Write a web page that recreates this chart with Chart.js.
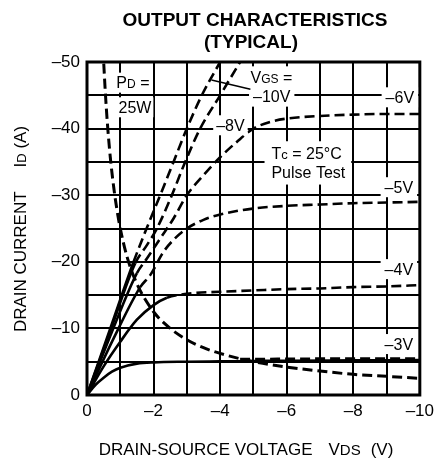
<!DOCTYPE html>
<html>
<head>
<meta charset="utf-8">
<title>Output Characteristics</title>
<script src="https://cdn.jsdelivr.net/npm/chart.js@4.4.1/dist/chart.umd.min.js"></script>
<style>
  html, body { margin: 0; padding: 0; background: #fff; }
  #wrap { width: 440px; height: 465px; }
</style>
</head>
<body>
<div id="wrap"><canvas id="chart" width="440" height="465"></canvas></div>
<script>
// Tick labels
const xTicks = [0, -2, -4, -6, -8, -10];
const yTicks = [0, -10, -20, -30, -40, -50];

// VGS curves: VDS (V) and ID (A)
const vgsNames = ["–3V", "–4V", "–5V", "–6V", "–8V", "–10V"];

const vds3 = [0, -0.25, -0.5, -0.75, -1, -1.5, -2, -3, -4, -5, -6, -8, -10];
const id3  = [0, -1.5, -2.6, -3.5, -4.1, -4.7, -4.9, -5.0, -5.05, -5.1, -5.15, -5.2, -5.25];
// pulse part drawn on top of -3V
const vds3p = [-4.6, -6, -8, -10];
const id3p  = [-5.35, -5.4, -5.45, -5.45];

const vds4 = [0, -0.5, -1, -1.5, -2, -2.4, -3, -4, -5, -6, -7, -8, -9, -10];
const id4  = [0, -4.3, -8.0, -11.3, -13.5, -14.6, -15.2, -15.5, -15.7, -15.9, -16.0, -16.2, -16.3, -16.5];

const vds5 = [0, -0.8, -1.6, -1.9, -2.3, -2.6, -3, -3.5, -4, -5, -6, -7, -8, -9, -10];
const id5  = [0, -8.5, -16.2, -18, -21.5, -23.3, -25, -26.3, -27.1, -28, -28.4, -28.6, -28.8, -28.9, -29];

const vds6 = [0, -0.75, -1.5, -1.8, -2.2, -2.6, -3, -3.5, -4, -4.5, -5, -5.5, -6, -7, -8, -9, -10];
const id6  = [0, -9.5, -18.3, -20.5, -23.5, -26.5, -30, -33, -35.7, -38, -40, -41, -41.5, -41.9, -42.1, -42.2, -42.2];

const vds8 = [0, -0.7, -1.45, -1.8, -2.1, -2.55, -2.95, -3.4, -4, -4.6];
const id8  = [0, -9.6, -19.8, -22.5, -25, -30, -35, -40, -45, -50];

const vds10 = [0, -0.7, -1.4, -1.75, -2.2, -2.6, -3.0, -3.45, -4.0];
const id10  = [0, -10, -20, -24.5, -30, -35, -40, -45, -50];

// where the measured solid part ends (dashed beyond)
const solidTo = [-10, -2.4, -1.6, -1.5, -1.45, -1.4];

// PD = 25W limit
const vdsPd = [-0.48, -0.55, -0.62, -0.7, -0.8, -0.9, -1, -1.2, -1.5, -2, -2.5, -3, -3.5, -4, -5, -6, -7, -8, -9, -10];
const idPd  = [-52, -45.5, -40.3, -35.7, -31.3, -27.8, -25, -20.8, -16.7, -12.5, -10, -8.3, -7.1, -6.25, -5, -4.2, -3.6, -3.1, -2.8, -2.5];

const FONT = '"Liberation Sans", Arial, Helvetica, sans-serif';
const DASH = [10, 5];

function pts(xs, ys) {
  return xs.map((x, i) => ({ x: x, y: ys[i] }));
}

function fmt(v) {
  return v === 0 ? "0" : "–" + Math.abs(v);
}

// draw text made of parts [text, size] on a common baseline, centred at cx
function drawRich(ctx, parts, cx, cy, bold) {
  let w = 0;
  parts.forEach(p => {
    if (typeof p === "number") { w += p; return; }
    ctx.font = (bold ? "bold " : "") + p[1] + "px " + FONT;
    w += ctx.measureText(p[0]).width;
  });
  const main = parts.find(p => typeof p !== "number")[1];
  let x = cx - w / 2;
  const base = cy + main * 0.36;
  ctx.textAlign = "left";
  ctx.textBaseline = "alphabetic";
  parts.forEach(p => {
    if (typeof p === "number") { x += p; return; }
    ctx.font = (bold ? "bold " : "") + p[1] + "px " + FONT;
    ctx.fillText(p[0], x, base);
    x += ctx.measureText(p[0]).width;
  });
  return w;
}

function label(ctx, chart, parts, v, i, padX, padY) {
  const sx = chart.scales.x, sy = chart.scales.y;
  const cx = sx.getPixelForValue(v), cy = sy.getPixelForValue(i);
  let w = 0;
  parts.forEach(p => {
    if (typeof p === "number") { w += p; return; }
    ctx.font = p[1] + "px " + FONT;
    w += ctx.measureText(p[0]).width;
  });
  ctx.fillStyle = "#fff";
  ctx.fillRect(cx - w / 2 - padX, cy - 9 - padY, w + padX * 2, 18 + padY * 2);
  ctx.fillStyle = "#000";
  drawRich(ctx, parts, cx, cy, false);
}

const textPlugin = {
  id: "texts",
  afterDatasetsDraw(chart) {
    const ctx = chart.ctx;
    const a = chart.chartArea;
    const sx = chart.scales.x, sy = chart.scales.y;
    ctx.save();

    // frame
    ctx.lineWidth = 3;
    ctx.strokeStyle = "#000";
    ctx.strokeRect(a.left, a.top, a.right - a.left, a.bottom - a.top);

    // curve labels
    label(ctx, chart, [["P", 16], ["D", 12], [" =", 16]], -1.38, -46.9, 2, 1);
    label(ctx, chart, [["25W", 16]], -1.44, -43.2, 2, 1);
    label(ctx, chart, [["V", 16], ["GS", 12], [" =", 16]], -5.54, -47.7, 4, 2);
    label(ctx, chart, [[vgsNames[5], 16]], -5.55, -44.8, 4, 1);
    label(ctx, chart, [[vgsNames[4], 16]], -4.31, -40.5, 3, 1);
    label(ctx, chart, [[vgsNames[3], 16]], -9.4, -44.7, 4, 1);
    label(ctx, chart, [[vgsNames[2], 16]], -9.37, -31.2, 4, 1);
    label(ctx, chart, [[vgsNames[1], 16]], -9.37, -18.9, 4, 1);
    label(ctx, chart, [[vgsNames[0], 16]], -9.37, -7.65, 4, 1);
    label(ctx, chart, [["T", 16], ["c", 13], [" = 25°C", 16]], -6.6, -36.3, 7, 3);
    label(ctx, chart, [["Pulse Test", 16]], -6.65, -33.4, 6, 3);

    // leader line from the VGS label
    ctx.lineWidth = 1.5;
    ctx.beginPath();
    ctx.moveTo(sx.getPixelForValue(-3.74), sy.getPixelForValue(-47.3));
    ctx.lineTo(sx.getPixelForValue(-4.91), sy.getPixelForValue(-45.9));
    ctx.stroke();

    // title
    ctx.fillStyle = "#000";
    drawRich(ctx, [["OUTPUT CHARACTERISTICS", 19]], 255, 19, true);
    drawRich(ctx, [["(TYPICAL)", 19]], 251, 41, true);

    // x axis title
    drawRich(ctx, [["DRAIN-SOURCE VOLTAGE", 17], 16, ["V", 17], ["DS", 15], 10, ["(V)", 17]], 246, 449, false);

    // y axis title
    ctx.translate(20, 229);
    ctx.rotate(-Math.PI / 2);
    drawRich(ctx, [["DRAIN CURRENT", 17], 24, ["I", 17], ["D", 13], [" (A)", 17]], 0, 0, false);

    ctx.restore();
  }
};

function curve(xs, ys, limit) {
  return {
    data: pts(xs, ys),
    borderColor: "#000",
    borderWidth: 2.6,
    pointRadius: 0,
    fill: false,
    cubicInterpolationMode: "monotone",
    segment: {
      borderDash: c => (c.p0.parsed.x <= limit + 1e-6 ? DASH : undefined)
    }
  };
}

const datasets = [
  curve(vds3, id3, solidTo[0]),
  Object.assign(curve(vds3p, id3p, 0), { borderWidth: 3 }),
  curve(vds4, id4, solidTo[1]),
  curve(vds5, id5, solidTo[2]),
  curve(vds6, id6, solidTo[3]),
  curve(vds8, id8, solidTo[4]),
  curve(vds10, id10, solidTo[5]),
  Object.assign(curve(vdsPd, idPd, 0), { borderWidth: 3 })
];

new Chart(document.getElementById("chart"), {
  type: "line",
  data: { datasets: datasets },
  plugins: [textPlugin],
  options: {
    responsive: false,
    animation: false,
    devicePixelRatio: 1,
    layout: { padding: { top: 62, right: 19, left: 0, bottom: 0 } },
    plugins: { legend: { display: false }, tooltip: { enabled: false }, title: { display: false } },
    scales: {
      x: {
        type: "linear",
        min: -10,
        max: 0,
        reverse: true,
        afterFit: s => { s.height = 70; },
        border: { display: false },
        grid: { color: "#000", lineWidth: 2, drawTicks: false },
        ticks: {
          stepSize: 1,
          autoSkip: false,
          maxRotation: 0,
          padding: 6,
          color: "#000",
          font: { family: FONT, size: 17 },
          callback: v => (xTicks.includes(v) ? fmt(v) : "")
        }
      },
      y: {
        type: "linear",
        min: -50,
        max: 0,
        reverse: true,
        afterFit: s => { s.width = 87; },
        border: { display: false },
        grid: { color: "#000", lineWidth: 2, drawTicks: false },
        ticks: {
          stepSize: 5,
          autoSkip: false,
          padding: 7,
          color: "#000",
          font: { family: FONT, size: 17 },
          callback: v => (yTicks.includes(v) ? fmt(v) : "")
        }
      }
    }
  }
});
</script>
</body>
</html>
